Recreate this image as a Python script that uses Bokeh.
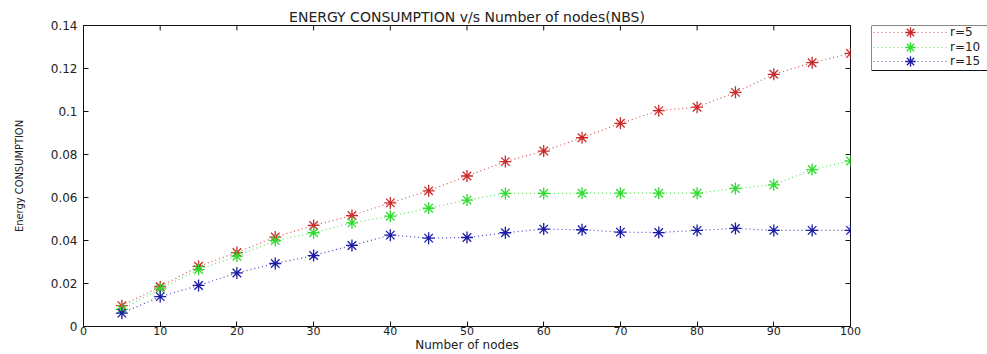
import math
from bokeh.plotting import figure
from bokeh.layouts import row
from bokeh.models import Range1d, FixedTicker, Legend, LegendItem, BoxAnnotation
from bokeh.embed import file_html
from bokeh.resources import INLINE

nodes = [5, 10, 15, 20, 25, 30, 35, 40, 45, 50, 55, 60, 65, 70, 75, 80, 85, 90, 95, 100]
r5 = [0.0097, 0.0185, 0.0280, 0.0344, 0.0416, 0.0470, 0.0516, 0.0575, 0.0631, 0.0700,
      0.0767, 0.0816, 0.0878, 0.0945, 0.1004, 0.1020, 0.1089, 0.1173, 0.1227, 0.1270]
r10 = [0.0080, 0.0175, 0.0265, 0.0327, 0.0400, 0.0436, 0.0482, 0.0513, 0.0550, 0.0588,
       0.0619, 0.0619, 0.0620, 0.0620, 0.0620, 0.0620, 0.0642, 0.0659, 0.0730, 0.0770]
r15 = [0.0062, 0.0139, 0.0191, 0.0249, 0.0293, 0.0330, 0.0377, 0.0425, 0.0411, 0.0414,
       0.0436, 0.0453, 0.0450, 0.0439, 0.0437, 0.0447, 0.0456, 0.0447, 0.0447, 0.0447]
series_labels = ["r=5", "r=10", "r=15"]
series_colors = ["#cc2a2a", "#2fdc2f", "#1c1ca6"]

x_ticks = [0, 10, 20, 30, 40, 50, 60, 70, 80, 90, 100]
y_ticks = [0, 0.02, 0.04, 0.06, 0.08, 0.1, 0.12, 0.14]
y_tick_labels = ["0", "0.02", "0.04", "0.06", "0.08", "0.1", "0.12", "0.14"]

FONT = "DejaVu Sans"
X_MIN, X_MAX, Y_MIN, Y_MAX = 0, 100, 0, 0.14
BORDER_TOP, BORDER_BOTTOM = 25, 27

p = figure(width=870, height=354, output_backend="svg", toolbar_location=None,
           x_range=Range1d(X_MIN, X_MAX), y_range=Range1d(Y_MIN, Y_MAX),
           min_border_left=83, min_border_right=20,
           min_border_top=BORDER_TOP, min_border_bottom=BORDER_BOTTOM,
           title="ENERGY CONSUMPTION v/s Number of nodes(NBS)")
p.title.align = "center"
p.title.text_font = FONT
p.title.text_font_size = "14px"
p.title.text_font_style = "normal"
p.title.text_color = "#222222"
p.title.offset = 0
p.title.standoff = 2

p.xgrid.visible = False
p.ygrid.visible = False
p.outline_line_color = "#111111"
p.outline_line_width = 1
p.background_fill_color = "white"
p.border_fill_color = "white"

def style_axis(ax):
    ax.major_tick_in = 5
    ax.major_tick_out = 0
    ax.minor_tick_line_color = None
    ax.axis_line_color = "#111111"
    ax.major_tick_line_color = "#111111"
    ax.major_label_text_font = FONT
    ax.major_label_text_font_size = "11px"
    ax.major_label_text_color = "#222222"
    ax.axis_label_text_font_style = "normal"
    ax.axis_label_text_color = "#222222"

xa = p.xaxis[0]
xa.ticker = FixedTicker(ticks=x_ticks)
style_axis(xa)
xa.major_label_standoff = 0
xa.axis_label = "Number of nodes"
xa.axis_label_text_font = FONT
xa.axis_label_text_font_size = "12px"
xa.axis_label_standoff = 0

ya = p.yaxis[0]
ya.ticker = FixedTicker(ticks=y_ticks)
ya.major_label_overrides = {v: s for v, s in zip(y_ticks, y_tick_labels)}
style_axis(ya)
ya.major_label_text_font_size = "12px"
ya.major_label_standoff = 6
ya.axis_label = "Energy CONSUMPTION"
ya.axis_label_text_font = "DejaVu Sans Condensed, Liberation Sans"
ya.axis_label_text_font_size = "11px"
ya.axis_label_standoff = 22

# mirrored inward tick marks on the top and right edges (half of each dash is clipped by the frame)
p.scatter(x_ticks, [Y_MAX] * len(x_ticks), marker="dash", angle=math.pi / 2, size=10,
          line_color="#111111", line_width=1)
p.scatter([X_MAX] * len(y_ticks), y_ticks, marker="dash", size=10,
          line_color="#111111", line_width=1)

# legend: a companion figure to the right, same vertical borders as the main plot
lf = figure(width=117, height=354, output_backend="svg", toolbar_location=None,
            x_range=Range1d(-20, -10), y_range=Range1d(-1, -0.5),
            min_border_left=1, min_border_right=0,
            min_border_top=BORDER_TOP, min_border_bottom=BORDER_BOTTOM)
lf.axis.visible = False
lf.grid.visible = False
lf.outline_line_color = None
lf.border_fill_color = "white"
lf.background_fill_color = "white"

lf.add_layout(BoxAnnotation(left=1, right=120, top=25, bottom=70,
                            left_units="canvas", right_units="canvas",
                            top_units="canvas", bottom_units="canvas",
                            fill_color=None, fill_alpha=0,
                            line_color="#111111", line_width=1, line_alpha=1))

legend_rows_y = [281, 266.5, 252]
for ys, lab, col, ly in zip([r5, r10, r15], series_labels, series_colors, legend_rows_y):
    p.line(nodes, ys, line_color=col, line_dash="1 3", line_width=1.2, line_alpha=0.8)
    p.scatter(nodes, ys, marker="asterisk", size=12, line_color=col, line_width=1.3)
    ln = lf.line(nodes, ys, line_color=col, line_dash="1 3", line_width=1.2, line_alpha=0.8)
    sc = lf.scatter(nodes, ys, marker="asterisk", size=12, line_color=col, line_width=1.3)
    lg = Legend(items=[LegendItem(label=lab, renderers=[ln, sc])], location=(2, ly),
                border_line_color=None, background_fill_alpha=0,
                glyph_width=74, glyph_height=26, label_height=13,
                label_standoff=3, spacing=0, padding=0, margin=0,
                label_text_font=FONT, label_text_font_size="12px",
                label_text_color="#222222")
    lf.add_layout(lg, "center")

layout = row(p, lf, spacing=0)
open("out.html", "w").write(file_html(layout, INLINE))
